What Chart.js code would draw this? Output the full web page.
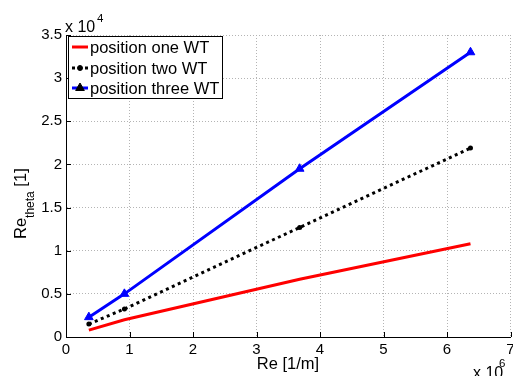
<!DOCTYPE html>
<html>
<head>
<meta charset="utf-8">
<script src="https://cdn.jsdelivr.net/npm/chart.js@4.4.0/dist/chart.umd.min.js"></script>
<style>
  html, body { margin: 0; padding: 0; background: #fff; }
</style>
</head>
<body>
<canvas id="reChart" width="513" height="376"></canvas>
<script>
// Re [1/m] at each measurement point
const reValues = [0.36e6, 0.92e6, 3.68e6, 6.37e6];
const posOne = [800, 2000, 6700, 10800];
const posTwo = [1500, 3250, 12700, 21900];
const posThree = [2300, 5000, 19500, 33000];
const seriesNames = ['position one WT', 'position two WT', 'position three WT'];

const FONT = "'Liberation Sans', Arial, Helvetica, sans-serif";

function toPoints(ys) {
    return reValues.map((x, i) => ({ x: x, y: ys[i] }));
}

// draws inward ticks, axis labels, exponents and the boxed legend
const matlabLook = {
    id: 'matlabLook',
    afterDraw(chart) {
        const ctx = chart.ctx;
        const area = chart.chartArea;
        const xs = chart.scales.x;
        const ys = chart.scales.y;
        ctx.save();
        ctx.strokeStyle = 'black';
        ctx.lineWidth = 1;
        ctx.beginPath();
        xs.ticks.forEach(t => {
            const px = Math.round(xs.getPixelForValue(t.value)) + 0.5;
            ctx.moveTo(px, area.bottom);
            ctx.lineTo(px, area.bottom - 5);
        });
        ys.ticks.forEach(t => {
            const py = Math.round(ys.getPixelForValue(t.value)) + 0.5;
            ctx.moveTo(area.left, py);
            ctx.lineTo(area.left + 5, py);
        });
        ctx.stroke();

        ctx.fillStyle = 'black';
        // x label
        ctx.font = '16.5px ' + FONT;
        ctx.textAlign = 'center';
        ctx.textBaseline = 'alphabetic';
        ctx.fillText('Re [1/m]', 288, 369);

        // exponents
        ctx.textAlign = 'left';
        ctx.font = '16px ' + FONT;
        ctx.fillText('x 10', 65, 32);
        ctx.font = '11.5px ' + FONT;
        ctx.fillText('4', 97, 22);
        ctx.font = '16px ' + FONT;
        ctx.fillText('x 10', 473, 378);
        ctx.font = '11.5px ' + FONT;
        ctx.fillText('6', 499, 367);

        // y label with subscript
        ctx.save();
        ctx.translate(26, 239);
        ctx.rotate(-Math.PI / 2);
        ctx.textAlign = 'left';
        ctx.font = '16.5px ' + FONT;
        ctx.fillText('Re', 0, 0);
        let w = ctx.measureText('Re').width;
        ctx.font = '12px ' + FONT;
        ctx.fillText('theta', w, 8);
        w += ctx.measureText('theta').width;
        ctx.font = '16.5px ' + FONT;
        ctx.fillText(' [1]', w, 0);
        ctx.restore();

        // legend
        ctx.fillStyle = 'white';
        ctx.fillRect(68.5, 36.5, 154, 62);
        ctx.strokeStyle = 'black';
        ctx.strokeRect(68.5, 36.5, 154, 62);
        const rows = [47, 68, 88];
        chart.data.datasets.forEach((ds, i) => {
            const y = rows[i];
            ctx.save();
            ctx.strokeStyle = ds.borderColor;
            ctx.lineWidth = ds.borderWidth;
            ctx.setLineDash(ds.borderDash || []);
            ctx.beginPath();
            ctx.moveTo(72, y);
            ctx.lineTo(88, y);
            ctx.stroke();
            ctx.restore();
            if (ds.pointRadius > 0) {
                Chart.helpers.drawPoint(ctx, {
                    pointStyle: ds.pointStyle,
                    radius: ds.pointRadius,
                    borderWidth: 1
                }, 80, y);
            }
            ctx.fillStyle = 'black';
            ctx.font = '16.5px ' + FONT;
            ctx.textAlign = 'left';
            ctx.textBaseline = 'middle';
            ctx.fillText(ds.label, 90, y + 1);
        });
        ctx.restore();
    }
};

const gridStyle = {
    color: '#b4b4b4',
    lineWidth: 1,
    drawTicks: false
};

// edge tick labels must not pull the plot area in
const noEdgePadding = () => ({ left: 0, top: 0, right: 0, bottom: 0 });

new Chart(document.getElementById('reChart').getContext('2d'), {
    type: 'line',
    data: {
        datasets: [
            {
                label: seriesNames[0],
                data: toPoints(posOne),
                borderColor: 'rgb(255, 0, 0)',
                backgroundColor: 'rgb(255, 0, 0)',
                borderWidth: 3,
                pointRadius: 0,
                tension: 0
            },
            {
                label: seriesNames[1],
                data: toPoints(posTwo),
                borderColor: 'black',
                backgroundColor: 'black',
                borderWidth: 3,
                borderDash: [3, 3.5],
                pointStyle: 'circle',
                pointRadius: 2.5,
                pointBorderWidth: 0,
                tension: 0
            },
            {
                label: seriesNames[2],
                data: toPoints(posThree),
                borderColor: 'rgb(0, 0, 255)',
                backgroundColor: 'rgb(0, 0, 255)',
                borderWidth: 3,
                pointStyle: 'triangle',
                pointRadius: 5,
                pointBorderWidth: 1,
                tension: 0
            }
        ]
    },
    options: {
        responsive: false,
        animation: false,
        layout: {
            autoPadding: false, // markers must not push the plot edges in either
            padding: { top: 35, right: 2.5, left: 0, bottom: 0 }
        },
        plugins: {
            legend: { display: false },
            tooltip: { enabled: false }
        },
        scales: {
            x: {
                type: 'linear',
                min: 0,
                max: 7e6,
                afterFit: s => { s.height = 39; s.paddingRight = 0; s.getPadding = noEdgePadding; },
                grid: Object.assign({}, gridStyle),
                border: { display: true, color: 'black', width: 1, dash: [1, 2] },
                ticks: {
                    stepSize: 1e6,
                    padding: 4,
                    color: 'black',
                    font: { family: FONT, size: 15 },
                    maxRotation: 0,
                    callback: v => String(v / 1e6)
                }
            },
            y: {
                min: 0,
                max: 35000,
                afterFit: s => { s.width = 66; },
                grid: Object.assign({}, gridStyle),
                border: { display: true, color: 'black', width: 1, dash: [1, 2] },
                ticks: {
                    stepSize: 5000,
                    padding: 4,
                    color: 'black',
                    font: { family: FONT, size: 15 },
                    callback: v => String(v / 1e4)
                }
            }
        }
    },
    plugins: [matlabLook]
});
</script>
</body>
</html>
